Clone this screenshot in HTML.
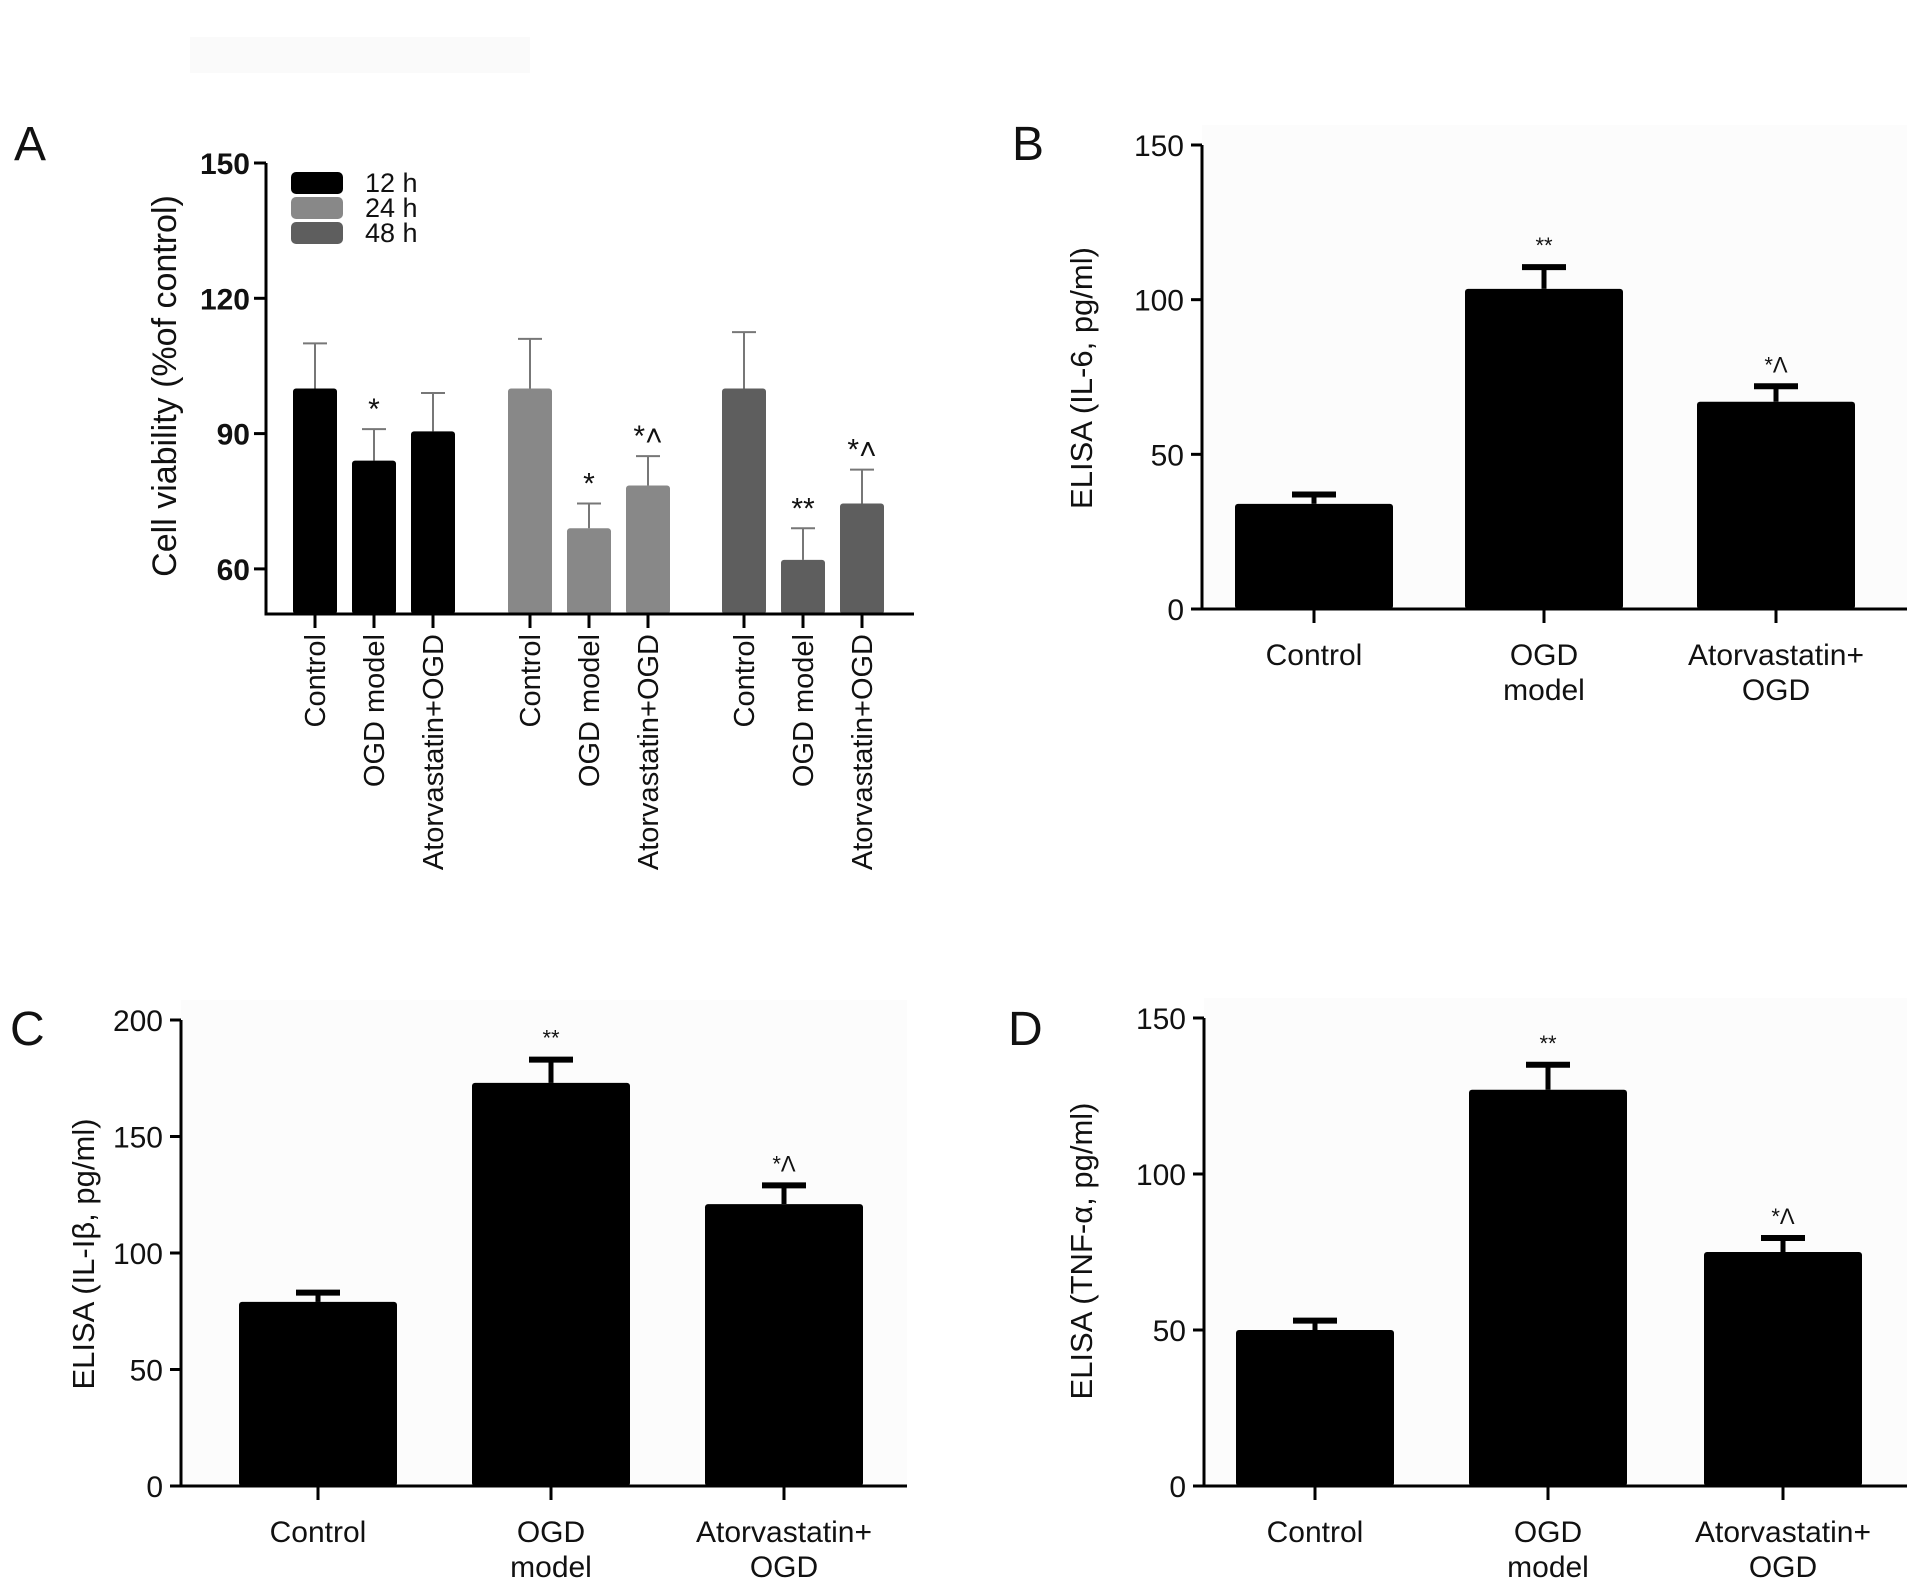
<!DOCTYPE html>
<html><head><meta charset="utf-8"><style>
html,body{margin:0;padding:0;background:#fff;}
svg{display:block;}
text{font-family:"Liberation Sans",sans-serif;fill:#111;}
</style></head><body>
<svg id="fig" width="1913" height="1582" viewBox="0 0 1913 1582" xmlns="http://www.w3.org/2000/svg">
<rect x="0" y="0" width="1913" height="1582" fill="#fff"/>
<rect x="190" y="37" width="340" height="36" fill="#fafafa"/>
</svg>
<script>
// Panel A data
const aCategories = ["Control","OGD model","Atorvastatin+OGD"];
const aGroups = ["12 h","24 h","48 h"];
const aValues12 = [100, 84, 90.5];
const aErr12 = [110, 91, 99];
const aValues24 = [100, 69, 78.5];
const aErr24 = [111, 74.5, 85];
const aValues48 = [100, 62, 74.5];
const aErr48 = [112.5, 69, 82];
const aSig12 = ["", "*", ""];
const aSig24 = ["", "*", "*^"];
const aSig48 = ["", "**", "*^"];
const aTicks = [60, 90, 120, 150];
// Panels B-D
const bdCategories = [["Control"],["OGD","model"],["Atorvastatin+","OGD"]];
const bValues = [34, 103.5, 67];
const bErr = [37, 110.5, 72];
const bTicks = [0, 50, 100, 150];
const cValues = [79, 173, 121];
const cErr = [83, 183, 129];
const cTicks = [0, 50, 100, 150, 200];
const dValues = [50, 127, 75];
const dErr = [53, 135, 79.5];
const dTicks = [0, 50, 100, 150];
const sigBD = ["", "**", "*^"];

const svg = document.getElementById('fig');
const NS = 'http://www.w3.org/2000/svg';
function mk(tag, attrs, parent){
  const e = document.createElementNS(NS, tag);
  for (const k in attrs) e.setAttribute(k, attrs[k]);
  (parent||svg).appendChild(e);
  return e;
}
function txt(s, attrs, parent){ const t = mk('text', attrs, parent); t.textContent = s; return t; }

// ---------- Panel A ----------
(function(){
  const g = mk('g', {});
  
  
  const x0 = 266, x1 = 914, yMin = 50, yMax = 150, yTop = 163, yBot = 614;
  const y = v => yBot - (v - yMin) / (yMax - yMin) * (yBot - yTop);
  const l = txt('A', {x: 14, y: 160, 'font-size': 48});
  
  
  const groups = [[aValues12, aErr12, aSig12, '#000'], [aValues24, aErr24, aSig24, '#888'], [aValues48, aErr48, aSig48, '#5e5e5e']];
  const bw = 44, gap = 59, groupStart = [315, 530, 744];
  groups.forEach((gr, gi) => {
    gr[0].forEach((v, i) => {
      const cx = groupStart[gi] + i * gap;
      const eb = mk('line', {x1: cx, x2: cx, y1: y(gr[1][i]), y2: y(v), stroke: '#777', 'stroke-width': 2}, g);
      
      
      const cap = mk('line', {x1: cx - 12, x2: cx + 12, y1: y(gr[1][i]), y2: y(gr[1][i]), stroke: '#777', 'stroke-width': 2}, g);
      
      
      const r = mk('rect', {x: cx - bw/2, y: y(v), width: bw, height: yBot - y(v), fill: gr[3], rx: 3}, g);
      
      
      if (gr[2][i]) {
        const s = txt(gr[2][i].replace('^', '\u02C4'), {x: cx, y: y(gr[1][i]) - 10, 'font-size': 30, 'text-anchor': 'middle'}, g);
        
        
      }
      const tk = mk('line', {x1: cx, x2: cx, y1: yBot, y2: yBot + 14, stroke: '#000', 'stroke-width': 3}, g);
      
      
      const cl = txt(aCategories[i], {x: 0, y: 0, 'font-size': 29, 'text-anchor': 'end', transform: `translate(${cx + 10},${yBot + 20}) rotate(-90)`}, g);
      
      
    });
  });
  const ax = mk('path', {d: `M${x0},${yTop} V${yBot} H${x1}`, fill: 'none', stroke: '#000', 'stroke-width': 3}, g);
  
  
  aTicks.forEach(t => {
    const tk = mk('line', {x1: x0 - 12, x2: x0, y1: y(t), y2: y(t), stroke: '#000', 'stroke-width': 3}, g);
    
    
    const tl = txt(String(t), {x: x0 - 16, y: y(t) + 11, 'font-size': 30, 'font-weight': 'bold', 'text-anchor': 'end'}, g);
    
    
  });
  const yt = txt('Cell viability (%of control)', {x: 0, y: 0, 'font-size': 34, 'text-anchor': 'middle', transform: `translate(176,386) rotate(-90)`}, g);
  
  
  const cols = ['#000', '#888', '#5e5e5e'];
  aGroups.forEach((n, i) => {
    const sw = mk('rect', {x: 291, y: 172 + i * 25, width: 52, height: 22, rx: 5, fill: cols[i]}, g);
    
    
    const lt = txt(n, {x: 365, y: 192 + i * 25, 'font-size': 27}, g);
    
    
  });
})();

// ---------- Panels B, C, D ----------
function panel(name, letter, lx, ly, x0, x1, yTop, yBot, yMax, ticks, vals, errs, centers, title, tx, ty){
  const g = mk('g', {});
  
  
  const y = v => yBot - v / yMax * (yBot - yTop);
  mk('rect', {x: x0, y: yTop - 20, width: x1 - x0, height: yBot - yTop + 20, fill: '#fcfcfc'}, g);
  const l = txt(letter, {x: lx, y: ly, 'font-size': 48}, g);
  
  
  const bw = 158;
  vals.forEach((v, i) => {
    const cx = centers[i];
    const eb = mk('line', {x1: cx, x2: cx, y1: y(errs[i]), y2: y(v), stroke: '#000', 'stroke-width': 5}, g);
    
    
    const cap = mk('line', {x1: cx - 22, x2: cx + 22, y1: y(errs[i]), y2: y(errs[i]), stroke: '#000', 'stroke-width': 6}, g);
    
    
    const r = mk('rect', {x: cx - bw/2, y: y(v), width: bw, height: yBot - y(v), fill: '#000', rx: 3}, g);
    
    
    if (sigBD[i]) {
      const s = txt(sigBD[i].replace('^', '\u039B'), {x: cx, y: y(errs[i]) - 14, 'font-size': 22, 'text-anchor': 'middle'}, g);
      
      
    }
    const tk = mk('line', {x1: cx, x2: cx, y1: yBot, y2: yBot + 14, stroke: '#000', 'stroke-width': 3}, g);
    
    
    bdCategories[i].forEach((line, li) => {
      const cl = txt(line, {x: cx, y: yBot + 56 + li * 35, 'font-size': 30, 'text-anchor': 'middle'}, g);
      
      
    });
  });
  const ax = mk('path', {d: `M${x0},${yTop} V${yBot} H${x1}`, fill: 'none', stroke: '#000', 'stroke-width': 3}, g);
  
  
  ticks.forEach(t => {
    const tk = mk('line', {x1: x0 - 11, x2: x0, y1: y(t), y2: y(t), stroke: '#000', 'stroke-width': 3}, g);
    
    
    const tl = txt(String(t), {x: x0 - 18, y: y(t) + 11, 'font-size': 30, 'text-anchor': 'end'}, g);
    
    
  });
  const yt = txt(title, {x: 0, y: 0, 'font-size': 31, 'text-anchor': 'middle', transform: `translate(${tx},${ty}) rotate(-90)`}, g);
  
  
}
panel('panel-b', 'B', 1012, 160, 1202, 1907, 145, 609, 150, bTicks, bValues, bErr, [1314, 1544, 1776], 'ELISA (IL-6, pg/ml)', 1092, 378);
panel('panel-c', 'C', 10, 1045, 181, 907, 1020, 1486, 200, cTicks, cValues, cErr, [318, 551, 784], 'ELISA (IL-I\u03B2, pg/ml)', 94, 1254);
panel('panel-d', 'D', 1008, 1045, 1204, 1907, 1018, 1486, 150, dTicks, dValues, dErr, [1315, 1548, 1783], 'ELISA (TNF-\u03B1, pg/ml)', 1092, 1251);
</script>
</body></html>
